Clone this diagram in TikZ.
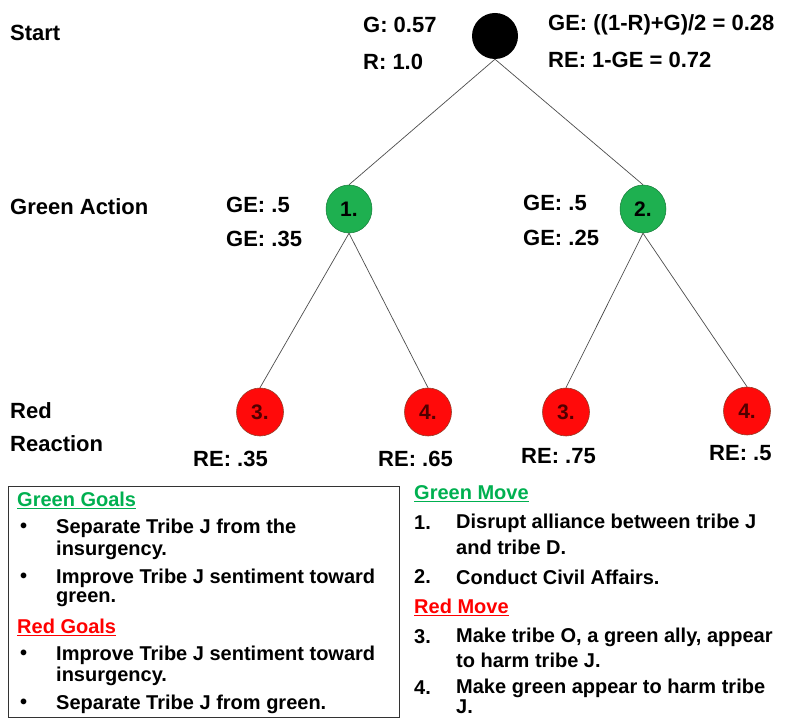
\documentclass[tikz,border=0pt]{standalone}
\usepackage{fontspec}
\setmainfont{Liberation Sans}
\usetikzlibrary{shapes.geometric}
\definecolor{gfill}{RGB}{30,176,80}
\definecolor{gtext}{RGB}{0,176,80}
\definecolor{rfill}{RGB}{255,10,10}
\definecolor{rline}{RGB}{150,60,40}
\definecolor{rnum}{RGB}{80,0,0}
\tikzset{
  lbl/.style={anchor=west,inner sep=0pt,font=\bfseries\fontsize{22}{24}\selectfont},
  txt/.style={anchor=west,inner sep=0pt,font=\bfseries\fontsize{20}{23}\selectfont},
  gnode/.style={ellipse,fill=gfill,draw=gfill!70!black,line width=0.5pt,minimum width=46pt,minimum height=48pt,inner sep=0pt,font=\bfseries\fontsize{21}{22}\selectfont},
  rnode/.style={ellipse,fill=rfill,draw=rline,line width=0.6pt,minimum width=47pt,minimum height=48pt,inner sep=0pt,font=\bfseries\fontsize{21}{22}\selectfont,text=rnum},
  bnode/.style={circle,fill=black,minimum size=46pt,inner sep=0pt},
  edge/.style={draw=black!70,line width=0.7pt},
  box/.style={draw=black!80,line width=0.8pt}
}
\begin{document}
\begin{tikzpicture}[x=1pt,y=-1pt]
\useasboundingbox (0,0) rectangle (793,719);
% tree nodes
\node[bnode] (s) at (495,36) {};
\node[gnode] (g1) at (349,209) {1.};
\node[gnode] (g2) at (643,209) {2.};
\node[rnode] (r1) at (260,412) {3.};
\node[rnode] (r2) at (428,412) {4.};
\node[rnode] (r3) at (566,412) {3.};
\node[rnode] (r4) at (747,411) {4.};
% edges
\draw[edge] (s.south) -- (g1.north);
\draw[edge] (s.south) -- (g2.north);
\draw[edge] (g1.south) -- (r1.north);
\draw[edge] (g1.south) -- (r2.north);
\draw[edge] (g2.south) -- (r3.north);
\draw[edge] (g2.south) -- (r4.north);
% labels
\node[lbl] (lstart) at (10,33) {Start};
\node[lbl] (lg) at (363,25) {G: 0.57};
\node[lbl] (lr) at (363,62) {R: 1.0};
\node[lbl] (lge) at (548,25) {GE: ((1-R)+G)/2 = 0.28};
\node[lbl] (lre) at (548,60) {RE: 1-GE = 0.72};
\node[lbl] (lga) at (10,207) {Green Action};
\node[lbl] (a1) at (226,205) {GE: .5};
\node[lbl] (a2) at (226,239) {GE: .35};
\node[lbl] (a3) at (523,203) {GE: .5};
\node[lbl] (a4) at (523,238) {GE: .25};
\node[lbl] (lred) at (10,411) {Red};
\node[lbl] (lreac) at (10,444) {Reaction};
\node[lbl] (b1) at (193,459) {RE: .35};
\node[lbl] (b2) at (378,459) {RE: .65};
\node[lbl] (b3) at (521,456) {RE: .75};
\node[lbl] (b4) at (709,453) {RE: .5};
% goals box
\draw[box] (8,486) rectangle (399,717);
\node[txt,text=gtext] (gg) at (17,500) {\underline{Green Goals}};
\node[txt] (d1) at (20,528) {\textbullet};
\node[txt] (t1) at (56,528) {Separate Tribe J from the};
\node[txt] (t1b) at (56,550) {insurgency.};
\node[txt] (d2) at (20,578) {\textbullet};
\node[txt] (t2) at (56,578) {Improve Tribe J sentiment toward};
\node[txt] (t2b) at (56,599) {green.};
\node[txt,text=red] (rg) at (17,627) {\underline{Red Goals}};
\node[txt] (d3) at (20,655) {\textbullet};
\node[txt] (t3) at (56,655) {Improve Tribe J sentiment toward};
\node[txt] (t3b) at (56,676) {insurgency.};
\node[txt] (d4) at (20,704) {\textbullet};
\node[txt] (t4) at (56,704) {Separate Tribe J from green.};
% moves
\node[txt,text=gtext] (gm) at (414,494) {\underline{Green Move}};
\node[txt] (n1) at (414,523) {1.};
\node[txt] (m1) at (456,523) {Disrupt alliance between tribe J};
\node[txt] (m1b) at (456,547) {and tribe D.};
\node[txt] (n2) at (414,577) {2.};
\node[txt] (m2) at (456,577) {Conduct Civil Affairs.};
\node[txt,text=red] (rm) at (414,607) {\underline{Red Move}};
\node[txt] (n3) at (414,637) {3.};
\node[txt] (m3) at (456,637) {Make tribe O, a green ally, appear};
\node[txt] (m3b) at (456,660) {to harm tribe J.};
\node[txt] (n4) at (414,688) {4.};
\node[txt] (m4) at (456,688) {Make green appear to harm tribe};
\node[txt] (m4b) at (456,707) {J.};
\end{tikzpicture}
\end{document}
